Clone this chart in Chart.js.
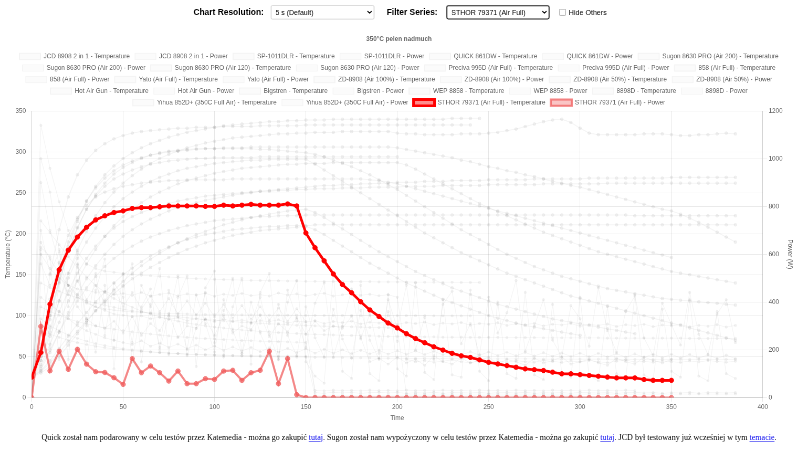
<!DOCTYPE html>
<html>
<head>
<meta charset="utf-8">
<script src="https://cdn.jsdelivr.net/npm/chart.js@4.4.1/dist/chart.umd.min.js"></script>
<style>
html, body { margin: 0; padding: 0; background: #fff; overflow: hidden; }
#page { position: absolute; left: 0; top: 0; width: 1524px; height: 863px; transform: scale(0.525); transform-origin: 0 0; font-family: Arial, "Liberation Sans", sans-serif; }
#controls { position: absolute; top: 9px; left: 0; width: 1524px; height: 28px; display: flex; justify-content: center; align-items: center; }
#controls .lbl { font-weight: bold; font-size: 16px; color: #000; }
#controls select { height: 27px; width: 197px; font-size: 13.33px; font-family: Arial, "Liberation Sans", sans-serif; background: #fff; color: #000; padding: 0 4px; }
#res { border: 1px solid #bbb; border-radius: 3px; margin: 0 24px 0 13px; }
#filter { border: 2px solid #222; border-radius: 4px; margin: 0 18px 0 16px; }
#controls input { margin: 0 6px 0 0; width: 13px; height: 13px; }
#controls .chk { font-size: 13.5px; color: #000; }
#chartBox { position: absolute; left: 4px; top: 57px; width: 1512px; height: 751px; }
#note { position: absolute; top: 825px; left: 0; width: 1524px; margin: 0; text-align: center; padding-left: 34px; box-sizing: border-box; font-family: "Liberation Serif", "Times New Roman", serif; font-size: 15.3px; color: #000; }
#note a { color: #0000ee; text-decoration: underline; }
</style>
</head>
<body>
<div id="page">
  <div id="controls">
    <span class="lbl">Chart Resolution:</span>
    <select id="res"><option>5 s (Default)</option></select>
    <span class="lbl">Filter Series:</span>
    <select id="filter"><option>STHOR 79371 (Air Full)</option></select>
    <input type="checkbox"><span class="chk">Hide Others</span>
  </div>
  <div id="chartBox"><canvas id="chart"></canvas></div>
  <p id="note">Quick został nam podarowany w celu testów przez Katemedia - można go zakupić <a href="#">tutaj</a>. Sugon został nam wypożyczony w celu testów przez Katemedia - można go zakupić <a href="#">tutaj</a>. JCD był testowany już wcześniej w tym <a href="#">temacie</a>.</p>
</div>
<script>
// sample times (s), 5 s resolution
const time = [0,5,10,15,20,25,30,35,40,45,50,55,60,65,70,75,80,85,90,95,
  100,105,110,115,120,125,130,135,140,145,150,155,160,165,170,175,180,185,190,195,
  200,205,210,215,220,225,230,235,240,245,250,255,260,265,270,275,280,285,290,295,
  300,305,310,315,320,325,330,335,340,345,350,355,360,365,370,375,380,385];

// highlighted device
const sthorTemp = [25,55,114,156,180,196,208,217,222,226,228,231,232,232,233,234,234,234,234,233.5,
  233.5,235,234,235,236,235,235,235,236.5,234,201,183,167,151,138,128,117,107,99,91,
  85,78,72,67,62,58,54,51,49,46,43,41,39,37,35,34,33,31,29,29,
  28,27,26,25,24,24,24,22,21,21,21];
const sthorPower = [0,298,112,194,118,202,140,108,105,83,55,163,104,132,104,69,111,58,58,79,
  76,111,114,72,104,114,194,58,163,12,0,0,0,0,0,0,0,0,0,0,
  0,0,0,0,0,0,0,0,0,0,0,0,0,0,0,0,0,0,0,0,
  0,0,0,0,0,0,0,0,0,0,0];

// other devices (faded)
const jcdTemp = [25,45,75,105,130,152,170,185,197,207,215,221,226,230,234,237,240,242,244,246,
  247,248,249,250,251,252,252,253,253,254,254,255,255,255,256,256,256,257,257,257,
  257,258,258,258,258,259,259,259,259,259,260,260,260,260,260,260,261,261,261,261,
  261,261,261,262,262,262,262,262,262,262,262,262,262,262,262,262,262,262];
const jcdPower = [0,740,690,640,590,545,505,470,440,415,395,378,362,350,338,328,320,312,306,300,
  295,291,287,283,280,277,275,272,270,268,266,265,263,262,261,260,259,258,257,256,
  256,255,255,254,254,253,253,253,252,252,252,252,251,251,251,251,250,250,250,250,
  250,250,250,249,249,249,249,249,249,249,249,249,248,248,248,248,248,248];
const spTemp = [25,35,55,80,104,126,145,161,175,187,197,205,212,218,223,228,232,235,238,241,
  243,245,247,249,250,252,253,254,255,256,257,258,259,259,260,260,261,261,262,262,
  263,263,263,264,264,264,265,265,265,265,266,266,266,266,266,267,267,267,267,267,
  267,268,268,268,268,268,268,268,268,268,269,269,269,269,269,269,269,269];
const spPower = [0,620,210,480,160,555,330,190,470,240,520,150,380,455,200,340,510,175,290,440,
  230,365,500,185,310,420,265,160,450,330,210,395,480,170,300,455,245,350,185,410,
  290,470,200,335,160,390,445,225,310,180,420,270,355,490,195,300,410,240,170,385,
  330,215,460,280,190,360,425,250,175,395,305,220,440,265,180,350,410,230];
const quickTemp = [25,60,110,155,190,218,240,256,268,277,284,289,293,296,298,300,301,302,303,304,
  304,305,305,305,306,306,306,306,306,306,306,306,306,306,306,306,306,306,306,306,
  305,303,301,299,297,295,293,290,288,285,282,280,277,275,272,270,267,264,262,259,
  257,254,251,248,245,242,239,236,233,230,228,224,219,214,208,202,196,190];
const quickPower = [0,600,540,500,470,455,450,440,445,430,436,428,440,425,432,438,426,434,429,437,
  424,433,428,436,427,431,425,438,429,434,426,432,437,425,430,435,428,433,426,431,
  420,160,150,155,148,152,158,150,146,154,149,153,147,155,150,148,156,151,147,153,
  149,155,150,146,152,157,149,151,148,154,150,147,153,149,155,151,148,152];
const sugon200Temp = [25,55,100,145,185,215,240,258,272,283,292,299,305,310,314,318,321,324,326,328,
  330,332,333,334,335,336,337,337,338,338,339,339,339,340,340,340,340,340,340,340,
  340,340,340,340,340,340,341,341,341,341];
const sugon200Power = [0,1140,960,820,700,610,560,540,530,525,520,515,512,510,508,505,503,500,498,497,
  495,494,493,492,491,490,489,489,488,488,487,487,486,486,486,485,485,485,484,484,
  484,484,483,483,483,483,483,482,482,482];
const sugon120Temp = [25,45,80,118,152,180,203,222,238,251,262,271,279,286,292,297,301,305,308,311,
  313,315,317,318,319,320,321,322,322,323,323,324,324,324,325,325,325,325,325,325,
  323,322,322,321,321,321,321,322,322,322,323,324,326,328,331,334,337,339,340,336,
  329,323,321,321,321,321,321,322,322,322,321,320,320,321,321,322,323,322];
const sugon120Power = [0,650,580,520,470,430,400,380,365,350,345,338,342,330,336,328,334,322,330,326,
  318,328,320,325,315,322,318,326,312,320,316,322,310,318,314,320,308,316,312,318,
  306,314,310,316,305,312,308,314,303,310,307,313,302,309,305,311,300,307,304,310,
  299,306,302,308,298,305,301,307,297,304,300,306,296,303,299,305,295,302];
const precivaTemp = [25,38,58,80,100,118,134,148,160,170,178,185,191,196,200,204,207,210,212,214,
  216,217,218,219,220,221,221,222,222,222,223,223,223,223,223,223,223,223,223,223,
  223,223,223,223,223,223,223,223,223,223,223,223,223,223,223,223,223,223,223,223,
  223,223,223,223,223,223,222,222,222,222,222,222,222,222,222,222,222,222];
const precivaPower = [0,420,390,360,330,300,280,265,250,240,230,222,238,215,228,210,224,205,220,200,
  216,198,212,195,210,192,208,190,206,188,204,186,202,185,200,184,198,183,197,182,
  196,181,195,180,194,179,193,178,192,177,191,176,190,175,189,174,188,173,187,172,
  186,171,185,170,184,169,183,168,182,167,181,166,180,165,179,164,178,163];
const g858Temp = [25,33,45,60,75,90,104,117,129,140,150,158,166,173,179,184,189,193,196,199,
  201,203,205,206,207,208,209,209,210,210,210,211,211,211,211,211,211,211,211,211,
  211,211,211,211,211,211,211,211,211,211,211,211,211,211,211,211,211,211,211,211,
  211,211,211,211,211,211,211,211,211,211,211,211,211,211,211,211,211,211];
const g858Power = [0,330,300,280,262,248,236,226,218,211,205,200,196,192,189,186,184,182,180,178,
  177,176,175,174,173,172,171,170,170,169,169,168,168,167,167,166,166,166,165,165,
  165,164,164,164,164,163,163,163,163,163,162,162,162,162,162,162,161,161,161,161,
  161,161,161,161,160,160,160,160,160,160,160,160,160,160,160,160,160,160];
const yatoTemp = [25,50,85,118,146,170,190,207,221,233,243,251,258,264,269,273,277,280,282,284,
  286,287,288,289,290,290,291,291,291,291,291,285,278,271,264,257,250,243,236,229,
  222,215,208,201,195,189,183,177,172,167,162,157,152,148,144,140,136,132,128,124,
  121,118,115,112,109,106,103,100,97,94,91,88,85,82,79,76,73,70];
const yatoPower = [0,560,470,520,430,490,410,470,395,455,380,440,370,425,360,415,350,405,345,395,
  338,390,332,385,328,380,325,375,320,372,318,20,18,22,19,21,18,20,22,19,
  21,18,20,19,22,18,21,20,19,22,18,20,21,19,22,18,20,19,21,18,
  22,20,19,21,18,20,22,19,21,18,20,19,22,18,21,20,19,21];
const zd100Temp = [25,40,65,92,118,142,163,181,197,210,221,230,238,245,251,256,261,265,268,271,
  274,276,278,280,281,282,283,284,285,285,286,286,286,287,287,287,287,287,287,287,
  287,284,279,273,267,261,255,249,243,237,232,227,222,217,212,207,202,198,194,190,
  186,182,178,175,172,169,166,163,160,157,154,152,150,148,146,144,142,140];
const zd100Power = [0,480,460,445,430,418,405,395,386,378,370,364,358,352,347,342,338,334,330,327,
  324,321,318,315,313,311,309,307,305,303,302,300,299,298,297,296,295,294,293,292,
  291,15,15,15,15,15,15,15,15,15,15,15,15,15,15,15,15,15,15,15,
  15,15,15,15,15,15,15,15,15,15,15,15,15,15,15,15,15,15];
const zd50Temp = [25,32,42,55,68,81,94,106,117,127,136,145,152,159,165,171,176,181,185,189,
  192,195,198,200,202,204,205,206,207,208,209,205,199,192,185,178,171,164,158,152,
  146,140,135,130,125,120,116,112,108,104,100,97,94,91,88,86,84,82,80,78,
  76];
const zd50Power = [0,280,265,252,240,230,222,215,209,204,200,196,193,190,188,186,184,182,181,180,
  179,178,177,176,176,175,175,174,174,174,173,10,10,10,10,10,10,10,10,10,
  10,10,10,10,10,10,10,10,10,10,10,10,10,10,10,10,10,10,10,10,
  10];
const hagTemp = [25,55,100,142,178,207,230,248,262,273,281,287,292,296,299,301,302,303,304,304,
  304,304,304,304,304,303,303,302,301,300,299,297,294,290,286,282,277,272,266,260,
  254,247,240,233,226,219,212,205,199,193,187,181,175,170,165,160,156,152,148,145,
  142,139,136,133,131,129,127,125,123,121,120,119,118,117,116,115,114,113];
const hagPower = [0,630,590,160,520,600,140,450,580,120,470,560,150,390,540,180,420,510,130,460,
  530,170,380,500,140,440,520,160,400,490,150,90,60,520,110,80,470,100,70,430,
  120,90,480,105,75,410,95,85,450,110,70,400,100,80,440,95,75,390,105,85,
  420,90,70,380,100,80,430,95,75,370,110,85,410,90,70,360,100,80];
const bigTemp = [25,30,38,50,64,78,92,106,119,131,142,152,161,169,176,183,189,194,199,203,
  207,211,214,217,220,222,224,226,228,229,230,226,220,213,206,199,192,185,178,172,
  166,160,154,149,144,139,134,130,126,122,118,114,111,108,105,102,99,96,94,92,
  90,88,86,84,82,80,78];
const bigPower = [0,380,360,345,330,318,308,300,292,286,280,275,270,266,262,258,255,252,249,247,
  245,243,241,239,238,236,235,234,233,232,231,30,28,31,29,30,28,31,29,30,
  28,31,29,30,28,31,29,30,28,31,29,30,28,31,29,30,28,31,29,30,
  28,31,29,30,28,31,29];
const wepTemp = [25,65,120,165,198,220,235,245,251,255,258,260,262,263,264,265,265,266,266,266,
  266,266,267,267,267,267,267,267,267,267,267,267,267,267,267,267,267,266,265,263,
  261,258,255,252,249,246,243,240,237,234,231,228,225,222,219,216,213,210,207,204,
  201,198,195,192,189,186,183,180,177,174,171];
const wepPower = [0,1000,860,620,470,380,330,300,290,320,270,340,260,310,280,350,250,300,290,330,
  260,340,270,300,285,345,255,310,275,335,265,320,280,300,290,340,250,150,165,140,
  170,145,160,135,175,150,140,165,145,155,170,140,160,150,135,165,145,155,170,140,
  150,160,145,135,165,150,140,170,155,145,160];
const d8898Temp = [25,80,150,205,245,272,290,302,310,316,320,323,325,326,327,328,329,329,330,330,
  330,331,331,331,331,332,332,332,332,332,333,333,333,333,333,333,333,333,333,333,
  333,333,333,333,333,333,333,333,333];
const d8898Power = [0,900,700,560,470,420,395,380,372,366,362,359,357,355,353,352,351,350,349,348,
  348,347,347,346,346,346,345,345,345,345,344,344,344,344,344,344,343,343,343,343,
  343,343,343,343,342,342,342,342,342];
const yihuaTemp = [25,50,95,140,178,208,230,246,258,267,273,278,282,285,287,289,290,291,292,292,
  293,293,293,293,293,294,294,294,294,294,294,294,294,294,294,294,294,294,294,294,
  294];
const yihuaPower = [0,700,520,610,380,560,300,520,260,480,420,230,470,380,210,450,340,200,430,310,
  190,410,280,185,400,270,180,390,260,175,380,250,170,370,245,165,365,240,160,360,
  235];

const devices = [
  ['JCD 8908 2 in 1', jcdTemp, jcdPower],
  ['SP-1011DLR', spTemp, spPower],
  ['QUICK 861DW', quickTemp, quickPower],
  ['Sugon 8630 PRO (Air 200)', sugon200Temp, sugon200Power],
  ['Sugon 8630 PRO (Air 120)', sugon120Temp, sugon120Power],
  ['Preciva 995D (Air Full)', precivaTemp, precivaPower],
  ['858 (Air Full)', g858Temp, g858Power],
  ['Yato (Air Full)', yatoTemp, yatoPower],
  ['ZD-8908 (Air 100%)', zd100Temp, zd100Power],
  ['ZD-8908 (Air 50%)', zd50Temp, zd50Power],
  ['Hot Air Gun', hagTemp, hagPower],
  ['Bigstren', bigTemp, bigPower],
  ['WEP 8858', wepTemp, wepPower],
  ['8898D', d8898Temp, d8898Power],
  ['Yihua 852D+ (350C Full Air)', yihuaTemp, yihuaPower],
  ['STHOR 79371 (Air Full)', sthorTemp, sthorPower]
];
const selected = 'STHOR 79371 (Air Full)';

function points(vals) {
  return vals.map((v, i) => ({ x: time[i], y: v }));
}

const datasets = [];
devices.forEach(([name, temp, power]) => {
  const on = name === selected;
  datasets.push({
    label: name + ' - Temperature',
    data: points(temp),
    yAxisID: 'y',
    order: on ? 0 : 1,
    borderColor: on ? 'rgb(255,0,0)' : 'rgba(0,0,0,0.045)',
    backgroundColor: on ? 'rgba(255,0,0,0.45)' : 'rgba(0,0,0,0.015)',
    pointBackgroundColor: on ? 'rgb(255,0,0)' : 'rgba(0,0,0,0.06)',
    pointBorderColor: on ? 'rgb(255,0,0)' : 'rgba(0,0,0,0.03)',
    pointBorderWidth: 1,
    borderWidth: on ? 5 : 2,
    pointRadius: on ? 4.5 : 3
  });
  datasets.push({
    label: name + ' - Power',
    data: points(power),
    yAxisID: 'y1',
    order: on ? 0 : 1,
    borderColor: on ? 'rgba(240,90,90,0.72)' : 'rgba(0,0,0,0.045)',
    backgroundColor: on ? 'rgba(240,90,90,0.35)' : 'rgba(0,0,0,0.015)',
    pointBackgroundColor: on ? 'rgba(240,90,90,0.72)' : 'rgba(0,0,0,0.05)',
    pointBorderColor: on ? 'rgba(240,90,90,0.72)' : 'rgba(0,0,0,0.03)',
    pointBorderWidth: 1,
    borderWidth: on ? 4 : 1.5,
    pointRadius: on ? 4.5 : 2.5
  });
});

new Chart(document.getElementById('chart').getContext('2d'), {
  type: 'line',
  data: { datasets: datasets },
  options: {
    responsive: true,
    maintainAspectRatio: false,
    animation: false,
    devicePixelRatio: 1,
    plugins: {
      title: { display: true, text: '350°C pelen nadmuch', color: '#666' },
      legend: {
        labels: { sort: (a, b) => a.datasetIndex - b.datasetIndex }
      },
      tooltip: { enabled: false }
    },
    scales: {
      x: {
        type: 'linear', min: 0, max: 400,
        ticks: { stepSize: 50 },
        title: { display: true, text: 'Time' }
      },
      y: {
        position: 'left', min: 0, max: 350,
        ticks: { stepSize: 50 },
        title: { display: true, text: 'Temperature (°C)' }
      },
      y1: {
        position: 'right', min: 0, max: 1200,
        ticks: { stepSize: 200, format: { useGrouping: false } },
        title: { display: true, text: 'Power (W)' }
      }
    }
  }
});
</script>
</body>
</html>
